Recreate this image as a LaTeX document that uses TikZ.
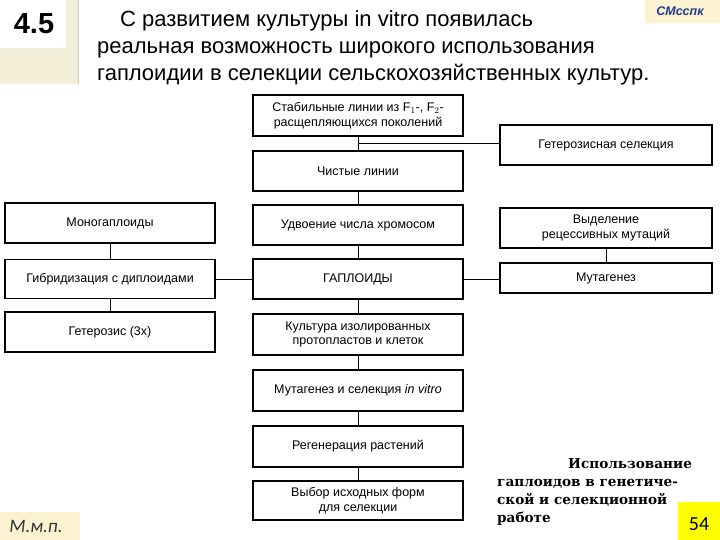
\documentclass[tikz,border=0pt]{standalone}
\usepackage{fontspec}
\setmainfont{Liberation Sans}
\newfontfamily\serifb{DejaVu Serif}
\newfontfamily\carl{Carlito}
\usetikzlibrary{calc}
\definecolor{beige}{HTML}{F3EED8}
\definecolor{beigeb}{HTML}{FBF2D2}
\definecolor{smblue}{HTML}{1F3C8C}
\definecolor{yel}{HTML}{FFFF00}
\begin{document}
\begin{tikzpicture}[x=1pt,y=-1pt,
  box/.style={draw, line width=1.1pt, minimum width=210pt, minimum height=40pt, inner sep=0pt, align=center, font=\fontsize{12.5}{14.5}\selectfont},
  link/.style={line width=0.8pt},
  title/.style={anchor=base west, inner sep=0pt, font=\fontsize{22}{26}\selectfont},
  caption/.style={anchor=base west, inner sep=0pt, font=\serifb\bfseries\fontsize{13.6}{16}\selectfont}]
\useasboundingbox (0,0) rectangle (720,540);
% decorations
\fill[beige] (0,0) rectangle (78,84);
\fill[white] (0,0) rectangle (66,48);
\draw[gray!40, line width=0.6pt] (78,0) -- (78,84);
\fill[beigeb] (645,0) rectangle (720,23);
\fill[beigeb] (0,512) rectangle (80,540);
\fill[yel] (678,502) rectangle (720,540);
\node[inner sep=0pt, font=\bfseries\fontsize{29}{31}\selectfont] (num) at (34,24) {4.5};
\node[inner sep=0pt, font=\bfseries\itshape\fontsize{12.5}{14}\selectfont, text=smblue] (sm) at (680,11) {СМсспк};
\node[inner sep=0pt, font=\carl\itshape\fontsize{19}{22}\selectfont, text=black!80] (mmp) at (36,526) {М.м.п.};
\node[inner sep=0pt, font=\carl\fontsize{20}{22}\selectfont] (pg) at (699,524) {54};
% title
\node[title] (t1) at (120,27) {С развитием культуры in vitro появилась};
\node[title] (t2) at (97,54) {реальная возможность широкого использования};
\node[title] (t3) at (97,81) {гаплоидии в селекции сельскохозяйственных культур.};
% caption
\node[caption] (c1) at (568,468) {Использование};
\node[caption] (c2) at (497,486) {гаплоидов в генетиче-};
\node[caption] (c3) at (497,504) {ской и селекционной};
\node[caption] (c4) at (497,522) {работе};
% center column
\node[box, minimum height=41pt] (b1) at (358,115.5) {Стабильные линии из F$_1$-, F$_2$-\\расщепляющихся поколений};
\node[box] (b2) at (358,171) {Чистые линии};
\node[box] (b3) at (358,225) {Удвоение числа хромосом};
\node[box] (b4) at (358,279) {ГАПЛОИДЫ};
\node[box, minimum height=41pt] (b5) at (358,334.5) {Культура изолированных\\протопластов и клеток};
\node[box, minimum height=41pt] (b6) at (358,390.5) {Мутагенез и селекция \textit{in vitro}};
\node[box, minimum height=41pt] (b7) at (358,446.5) {Регенерация растений};
\node[box, minimum height=39pt] (b8) at (358,500.5) {Выбор исходных форм\\для селекции};
% left column
\node[box] (l1) at (110,223) {Моногаплоиды};
\node[box, minimum height=39pt] (l2) at (110,279) {Гибридизация с диплоидами};
\node[box] (l3) at (110,332) {Гетерозис (3х)};
% right column
\node[box, minimum width=212pt] (r1) at (606,145) {Гетерозисная селекция};
\node[box, minimum width=212pt] (r2) at (606,228) {Выделение\\рецессивных мутаций};
\node[box, minimum width=212pt, minimum height=30pt] (r3) at (606,278) {Мутагенез};
% connectors
\draw[link] (b1) -- (b2);
\draw[link] (b2) -- (b3);
\draw[link] (b3) -- (b4);
\draw[link] (b4) -- (b5);
\draw[link] (b5) -- (b6);
\draw[link] (b6) -- (b7);
\draw[link] (b7) -- (b8);
\coordinate (j) at ($(b1.south)!0.5!(b2.north)$);
\draw[link] (j) -- (j -| r1.west);
\draw[link] (l1) -- (l2);
\draw[link] (l2) -- (l3);
\draw[link] (l2.east) -- (b4.west);
\draw[link] (b4.east) -- (b4.east -| r3.west);
\draw[link] (r2) -- (r3);
\end{tikzpicture}
\end{document}
